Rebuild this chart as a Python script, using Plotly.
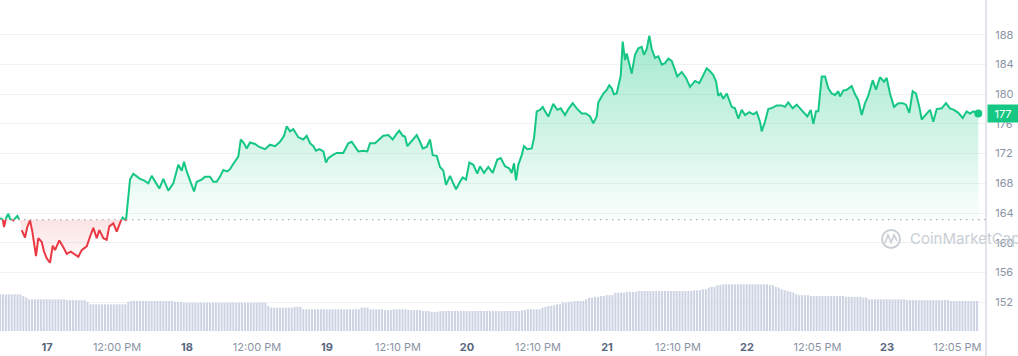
import plotly.graph_objects as go

# ---------------- data ----------------
# hours relative to 17th 00:00 (local time of chart)
hours = [-8.06, -7.59, -7.37, -7.03, -6.63, -6.34, -5.78, -5.09, -4.75, -4.34, -3.77, -3.38, -2.91, -2.52,
         -1.89, -1.49, -0.91, -0.51, -0.05, 0.51, 0.98, 1.37, 2.11, 2.79, 3.38, 4.06, 4.80, 5.37, 5.95, 6.81,
         7.37, 7.94, 8.52, 8.97, 9.65, 10.23, 10.68, 11.37, 11.95, 12.51, 12.98, 13.54, 13.94, 14.23, 14.79,
         15.38, 15.94, 16.63, 17.37, 17.95, 18.51, 19.25, 19.94, 20.79, 21.65, 22.51, 23.09, 23.49, 23.95,
         24.51, 25.20, 25.66, 26.52, 27.09, 27.94, 28.51, 29.09, 29.66, 30.22, 30.91, 31.37, 31.83, 32.40,
         32.79, 33.21, 33.77, 34.23, 34.80, 35.66, 36.39, 37.37, 38.23, 39.09, 39.94, 40.63, 41.09, 41.66,
         42.22, 43.08, 43.94, 44.52, 45.09, 45.66, 46.11, 46.68, 47.37, 47.83, 48.22, 48.98, 49.66, 50.79,
         51.65, 52.23, 52.80, 53.36, 54.22, 54.91, 55.37, 56.23, 56.79, 57.65, 58.51, 59.26, 59.95, 60.39,
         60.98, 61.37, 61.77, 62.23, 62.79, 63.38, 63.94, 64.41, 65.09, 65.66, 66.12, 66.81, 67.37, 67.94,
         68.40, 69.09, 69.65, 70.12, 70.80, 71.26, 71.83, 72.40, 73.08, 73.77, 74.23, 74.92, 75.65, 76.41,
         77.19, 77.78, 78.51, 79.25, 79.66, 80.06, 80.40, 80.80, 81.38, 81.77, 82.34, 83.09, 83.49, 83.95,
         84.51, 84.98, 85.37, 85.94, 86.79, 87.48, 88.06, 88.80, 89.37, 90.12, 90.81, 91.66, 92.40, 93.09,
         93.65, 94.23, 94.51, 95.37, 95.95, 96.39, 96.81, 97.20, 97.66, 98.11, 98.35, 98.69, 99.09, 99.38,
         99.82, 100.23, 100.80, 101.37, 101.95, 102.34, 102.81, 103.25, 103.67, 104.23, 104.80, 105.38,
         105.94, 106.51, 107.09, 107.66, 108.05, 108.81, 109.54, 110.23, 111.09, 111.82, 112.51, 113.09,
         113.66, 114.22, 114.69, 115.08, 115.49, 115.94, 116.52, 116.97, 117.38, 117.94, 118.51, 119.09,
         119.66, 120.39, 121.08, 121.66, 122.23, 122.52, 123.08, 123.65, 124.41, 125.09, 125.95, 126.51,
         127.08, 127.83, 128.52, 129.21, 129.94, 130.34, 130.92, 131.37, 131.83, 132.22, 132.81, 133.37,
         133.94, 134.52, 135.09, 135.65, 135.94, 136.51, 137.09, 137.94, 138.51, 139.08, 139.66, 140.23,
         140.79, 141.55, 142.11, 142.80, 143.48, 143.95, 144.51, 145.20, 145.94, 146.69, 147.25, 147.82,
         148.40, 148.97, 149.54, 149.95, 150.80, 151.37, 151.94, 152.52, 153.38, 154.11, 154.80, 155.49,
         156.22, 156.98, 157.66, 158.23, 158.79, 159.65]

price = [163.3, 163.2, 162.1, 163.3, 163.9, 163.2, 163.0, 163.6, 163.1, 161.7, 160.7, 162.1, 163.0, 161.5,
         158.2, 160.6, 160.1, 158.8, 157.9, 157.3, 159.6, 159.0, 160.3, 159.4, 158.5, 158.8, 158.4, 158.1,
         159.0, 159.5, 160.8, 162.0, 160.6, 161.7, 160.6, 160.4, 162.2, 162.6, 161.5, 162.8, 163.4, 163.0,
         166.2, 168.5, 169.3, 168.9, 168.6, 168.4, 168.0, 169.0, 168.2, 167.3, 168.6, 167.0, 168.0, 170.5,
         169.7, 170.9, 169.6, 168.3, 166.9, 168.2, 168.5, 168.9, 168.9, 168.2, 168.2, 168.9, 169.8, 169.6,
         169.9, 170.5, 171.2, 171.6, 173.9, 173.4, 172.7, 173.5, 173.3, 172.9, 172.6, 173.2, 173.0, 173.6,
         174.4, 175.7, 175.0, 175.3, 174.2, 173.9, 174.4, 173.4, 173.0, 172.4, 172.6, 172.3, 170.8, 171.4,
         171.8, 172.1, 172.1, 173.4, 173.6, 173.0, 172.3, 172.4, 172.3, 173.4, 173.4, 173.8, 174.4, 174.5,
         173.9, 174.7, 175.1, 174.4, 174.3, 173.0, 173.4, 173.9, 174.5, 173.6, 172.7, 172.9, 173.9, 171.8,
         171.7, 170.2, 169.7, 167.8, 169.0, 168.0, 167.2, 168.2, 168.8, 168.5, 170.8, 170.5, 169.3, 170.3,
         169.4, 170.2, 169.4, 171.2, 171.4, 170.3, 170.0, 169.4, 170.7, 168.4, 170.5, 171.8, 173.0, 172.6,
         172.7, 174.1, 177.7, 177.9, 178.3, 177.7, 177.0, 178.7, 177.9, 178.1, 177.2, 178.0, 178.8, 178.1,
         177.4, 177.4, 177.0, 176.1, 177.0, 178.9, 180.1, 180.6, 181.2, 180.8, 180.0, 180.1, 181.5, 182.5,
         187.1, 184.6, 185.5, 184.0, 182.8, 185.3, 186.2, 186.4, 185.3, 186.1, 187.9, 186.1, 184.9, 185.1,
         184.0, 184.2, 184.8, 184.5, 183.1, 182.4, 183.0, 182.2, 181.0, 181.8, 181.5, 182.6, 183.5, 183.1,
         182.6, 181.7, 179.8, 180.1, 179.4, 180.1, 179.1, 178.3, 178.1, 176.7, 177.9, 177.2, 177.6, 177.3,
         177.6, 176.3, 175.0, 176.3, 178.0, 178.2, 178.5, 178.5, 178.3, 178.9, 178.1, 178.6, 178.0, 177.4,
         177.0, 177.9, 176.0, 177.7, 177.7, 182.4, 182.4, 180.8, 180.1, 179.9, 180.4, 179.7, 180.5, 180.6,
         181.1, 180.0, 179.2, 177.2, 178.8, 179.8, 181.9, 180.6, 182.3, 181.7, 182.2, 180.1, 178.3, 178.8,
         178.8, 178.6, 177.5, 180.4, 180.1, 178.3, 176.6, 177.4, 177.9, 176.3, 178.0, 178.1, 178.8, 178.1,
         177.9, 177.5, 176.8, 177.7, 177.4, 177.7, 177.4]

# 30-minute volume bars (millions), starting at the first price timestamp
volume = [
    44, 44, 44, 44, 44, 44, 44, 44, 42, 40, 38, 38, 38, 38, 38, 38, 38, 38, 38, 38, 38, 38, 38, 37,
    37, 37, 37, 37, 37, 37, 35, 32, 32, 32, 32, 32, 32, 32, 32, 32, 32, 32, 32, 32, 35, 36, 36, 36,
    36, 36, 36, 36, 36, 36, 36, 36, 36, 36, 36, 36, 35, 35, 35, 34, 34, 34, 34, 34, 34, 34, 34, 34,
    34, 34, 34, 34, 34, 34, 34, 34, 34, 34, 34, 34, 34, 34, 34, 34, 34, 34, 34, 34, 30, 28, 28, 28,
    28, 28, 28, 28, 28, 29, 29, 29, 26, 26, 26, 26, 26, 26, 26, 26, 26, 26, 26, 26, 26, 26, 26, 26,
    26, 26, 26, 26, 28, 28, 28, 26, 26, 26, 26, 26, 25, 25, 25, 26, 26, 26, 26, 26, 25, 25, 25, 25,
    25, 24, 24, 24, 23, 23, 23, 24, 24, 24, 24, 24, 24, 24, 24, 24, 24, 24, 24, 24, 24, 24, 24, 24,
    24, 24, 24, 24, 24, 24, 24, 24, 24, 24, 24, 25, 25, 26, 26, 26, 26, 26, 28, 29, 30, 30, 31, 32,
    32, 34, 34, 35, 35, 36, 36, 36, 36, 38, 40, 40, 41, 41, 42, 42, 43, 43, 43, 46, 46, 46, 46, 47,
    47, 47, 47, 48, 48, 48, 48, 48, 48, 48, 48, 48, 48, 48, 48, 48, 48, 48, 48, 48, 48, 48, 49, 49,
    49, 50, 50, 52, 53, 53, 55, 55, 56, 56, 56, 56, 56, 56, 56, 56, 56, 56, 56, 56, 56, 56, 56, 56,
    55, 55, 53, 52, 50, 49, 48, 47, 46, 44, 43, 43, 43, 43, 42, 42, 42, 42, 42, 42, 42, 42, 42, 42,
    42, 42, 41, 41, 41, 41, 41, 41, 40, 40, 38, 38, 38, 38, 38, 38, 38, 38, 38, 38, 38, 38, 38, 37,
    37, 37, 37, 37, 37, 37, 37, 37, 37, 37, 37, 37, 37, 37, 36, 36, 36, 36, 36, 36, 36, 36, 36, 36,
]

open_price = 163.1  # reference price for green/red split (dotted line)
price_ticks = [152, 156, 160, 164, 168, 172, 176, 180, 184, 188]
time_tickvals = [0, 12, 24, 36, 48, 60.17, 72, 84.17, 96, 108.17, 120, 132.08, 144, 156.08]
time_ticktext = ["17", "12:00 PM", "18", "12:00 PM", "19", "12:10 PM", "20", "12:10 PM",
                 "21", "12:10 PM", "22", "12:05 PM", "23", "12:05 PM"]

GREEN = "#16c784"
RED = "#ea3943"

# ---------------- split line at the reference price ----------------
sx, gy, ry, fg, fr = [], [], [], [], []
for i, (h, p) in enumerate(zip(hours, price)):
    if i > 0:
        h0, p0 = hours[i - 1], price[i - 1]
        if (p0 - open_price) * (p - open_price) < 0:
            t = (open_price - p0) / (p - p0)
            sx.append(h0 + t * (h - h0))
            gy.append(open_price); ry.append(open_price)
            fg.append(open_price); fr.append(open_price)
    sx.append(h)
    gy.append(p if p >= open_price else None)
    ry.append(p if p < open_price else None)
    fg.append(max(p, open_price))
    fr.append(min(p, open_price))

vol_x = [hours[0] + 0.5 * i for i in range(len(volume))]

fig = go.Figure()

# volume bars on a hidden secondary axis
fig.add_trace(go.Bar(x=vol_x, y=volume, yaxis="y2", marker=dict(color="#cdd3e2", line=dict(width=0)),
                     hoverinfo="skip", showlegend=False))

# green fill
fig.add_trace(go.Scatter(x=sx, y=[open_price] * len(sx), mode="lines", line=dict(width=0),
                         hoverinfo="skip", showlegend=False))
fig.add_trace(go.Scatter(x=sx, y=fg, mode="lines", line=dict(width=0), fill="tonexty",
                         fillgradient=dict(type="vertical",
                                           colorscale=[[0, "rgba(22,199,132,0.02)"], [1, "rgba(22,199,132,0.40)"]],
                                           start=open_price, stop=188),
                         hoverinfo="skip", showlegend=False))
# red fill
fig.add_trace(go.Scatter(x=sx, y=[open_price] * len(sx), mode="lines", line=dict(width=0),
                         hoverinfo="skip", showlegend=False))
fig.add_trace(go.Scatter(x=sx, y=fr, mode="lines", line=dict(width=0), fill="tonexty",
                         fillgradient=dict(type="vertical",
                                           colorscale=[[0, "rgba(234,57,67,0.02)"], [1, "rgba(234,57,67,0.14)"]],
                                           start=157, stop=open_price),
                         hoverinfo="skip", showlegend=False))

# lines
fig.add_trace(go.Scatter(x=sx, y=gy, mode="lines", line=dict(color=GREEN, width=2), showlegend=False))
fig.add_trace(go.Scatter(x=sx, y=ry, mode="lines", line=dict(color=RED, width=2), showlegend=False))
fig.add_trace(go.Scatter(x=[hours[-1]], y=[price[-1]], mode="markers",
                         marker=dict(color=GREEN, size=8), showlegend=False))

fig.update_layout(
    width=1018, height=356, autosize=False,
    margin=dict(l=0, r=32, t=0, b=25),
    paper_bgcolor="white", plot_bgcolor="white",
    font=dict(family="Inter, Roboto, sans-serif"),
    bargap=0.3,
    xaxis=dict(range=[-8.06, 160.97], tickvals=time_tickvals,
               ticktext=[f"<b><span style='color:#58667e'>{t}</span></b>" if len(t) <= 2 else t
                         for t in time_ticktext],
               tickfont=dict(size=11, color="#8a93a5"), showgrid=False, zeroline=False,
               ticks="outside", ticklen=6, tickcolor="rgba(0,0,0,0)", showline=False),
    yaxis=dict(range=[148.1, 192.7], side="right", tickvals=price_ticks,
               tickfont=dict(size=11, color="#8a93a5"), gridcolor="#eff2f5", gridwidth=1,
               zeroline=False, ticks="outside", ticklen=6, tickcolor="rgba(0,0,0,0)"),
    yaxis2=dict(overlaying="y", range=[0, 397], visible=False, showgrid=False),
    shapes=[
        dict(type="line", xref="paper", x0=0, x1=1, yref="y", y0=open_price, y1=open_price,
             line=dict(color="#a9b1c0", width=1.2, dash="1.5px,4.5px")),
        dict(type="line", xref="paper", x0=1, x1=1, yref="paper", y0=-0.08, y1=1,
             line=dict(color="#c4cad3", width=1)),
        dict(type="circle", xref="paper", yref="paper", x0=0.8946, x1=0.9128, y0=0.251, y1=0.305,
             line=dict(color="#c9ced6", width=2)),
        dict(type="path", xref="paper", yref="paper",
             path="M 0.8976 0.266 L 0.9006 0.290 L 0.9037 0.268 L 0.9067 0.290 L 0.9098 0.272",
             line=dict(color="#c9ced6", width=1.6)),
    ],
    annotations=[
        dict(xref="paper", x=1, xanchor="left", yref="y", y=price[-1], yanchor="middle",
             text=f"{price[-1]:.0f}", showarrow=False, bgcolor=GREEN,
             font=dict(color="white", size=11), width=30, height=17, borderpad=0, xshift=1),
        dict(xref="paper", x=0.921, xanchor="left", yref="paper", y=0.278, yanchor="middle",
             text="CoinMarketCap", showarrow=False, font=dict(color="#c9ced6", size=15)),
    ],
)

fig.write_html("out.html", config={"displayModeBar": False},
               post_script="document.body.style.margin='0';")
